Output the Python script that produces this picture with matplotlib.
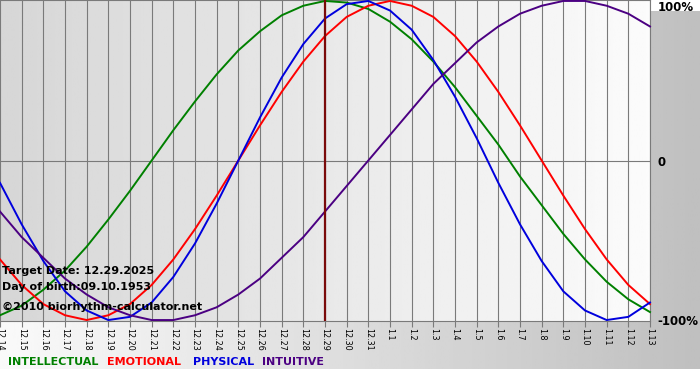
import matplotlib
matplotlib.use("Agg")
import matplotlib.pyplot as plt
import numpy as np

dates = ["12.14", "12.15", "12.16", "12.17", "12.18", "12.19", "12.20", "12.21",
         "12.22", "12.23", "12.24", "12.25", "12.26", "12.27", "12.28", "12.29",
         "12.30", "12.31", "1.1", "1.2", "1.3", "1.4", "1.5", "1.6", "1.7", "1.8",
         "1.9", "1.10", "1.11", "1.12", "1.13"]

intellectual = [-0.97, -0.91, -0.81, -0.69, -0.54, -0.37, -0.19, 0.00, 0.19, 0.37,
                0.54, 0.69, 0.81, 0.91, 0.97, 1.00, 0.99, 0.95, 0.87, 0.76, 0.62,
                0.46, 0.28, 0.10, -0.10, -0.28, -0.46, -0.62, -0.76, -0.87, -0.95]
emotional = [-0.62, -0.78, -0.90, -0.97, -1.00, -0.97, -0.90, -0.78, -0.62, -0.43,
             -0.22, 0.00, 0.22, 0.43, 0.62, 0.78, 0.90, 0.97, 1.00, 0.97, 0.90,
             0.78, 0.62, 0.43, 0.22, 0.00, -0.22, -0.43, -0.62, -0.78, -0.90]
physical = [-0.14, -0.40, -0.63, -0.82, -0.94, -1.00, -0.98, -0.89, -0.73, -0.52,
            -0.27, 0.00, 0.27, 0.52, 0.73, 0.89, 0.98, 1.00, 0.94, 0.82, 0.63,
            0.40, 0.14, -0.14, -0.40, -0.63, -0.82, -0.94, -1.00, -0.98, -0.89]
intuitive = [-0.32, -0.48, -0.61, -0.74, -0.84, -0.92, -0.97, -1.00, -1.00, -0.97,
             -0.92, -0.84, -0.74, -0.61, -0.48, -0.32, -0.16, 0.00, 0.16, 0.32,
             0.48, 0.61, 0.74, 0.84, 0.92, 0.97, 1.00, 1.00, 0.97, 0.92, 0.84]

target_date = "12.29"
series = [("INTELLECTUAL", intellectual, "#008000"),
          ("EMOTIONAL", emotional, "#ff0000"),
          ("PHYSICAL", physical, "#0000dd"),
          ("INTUITIVE", intuitive, "#4b0082")]

W, H = 700, 380
fig = plt.figure(figsize=(W / 100, H / 100), dpi=100, facecolor="white")

# outer background, light on the left, grey on the right
bg = fig.add_axes([0, 11 / H, 1, 358 / H])
bg.imshow(np.linspace(0.98, 0.75, 256).reshape(1, -1), cmap="gray", vmin=0, vmax=1,
          aspect="auto", extent=[0, 1, 0, 1])
bg.set_axis_off()

ax = fig.add_axes([0, 1 - 321 / H, 650 / W, 321 / H])
x = np.arange(len(dates))
ax.set_xlim(0, len(dates) - 1)
ax.set_ylim(-1.006, 1.006)
ax.imshow(np.linspace(0.84, 0.985, 256).reshape(1, -1), cmap="gray", vmin=0, vmax=1,
          aspect="auto", extent=[0, len(dates) - 1, -1.006, 1.006], zorder=0)

for xi in x:
    ax.axvline(xi, color="#7a7a7a", lw=0.8, zorder=1)
ax.axhline(0, color="#7a7a7a", lw=0.8, zorder=1)

for name, vals, col in series:
    ax.plot(x, vals, color=col, lw=1.4, zorder=3, clip_on=False,
            solid_joinstyle="round")

ax.axvline(dates.index(target_date), color="#7a0a0a", lw=1.6, zorder=4)

for s in ax.spines.values():
    s.set_color("#7a7a7a")
    s.set_linewidth(0.8)
ax.spines["left"].set_visible(False)

ax.set_yticks([])
ax.set_xticks(x)
ax.set_xticklabels(dates, rotation=-90, fontsize=5.8, color="black")
ax.tick_params(axis="x", length=4, color="#7a7a7a", pad=1)

ax.text(1.0115, 0.956, "100%", transform=ax.get_yaxis_transform(), fontsize=8.5,
        fontweight="bold", va="center", ha="left")
ax.text(1.0115, -0.01, "0", transform=ax.get_yaxis_transform(), fontsize=8.5,
        fontweight="bold", va="center", ha="left")
ax.text(1.0115, -1.01, "-100%", transform=ax.get_yaxis_transform(), fontsize=8.5,
        fontweight="bold", va="center", ha="left")

info = ["Target Date: 12.29.2025", "Day of birth:09.10.1953", "\u00a92010 biorhythm-calculator.net"]
for txt, ypx in zip(info, [271, 287, 307]):
    fig.text(2 / W, 1 - ypx / H, txt, fontsize=8, fontweight="bold", va="center",
             ha="left", zorder=10)

xpos = [8, 107, 193, 262]
for (name, vals, col), xp in zip(series, xpos):
    fig.text(xp / W, 1 - 362 / H, name, fontsize=8, fontweight="bold", color=col,
             va="center", ha="left")

fig.savefig("out.png", dpi=100)
